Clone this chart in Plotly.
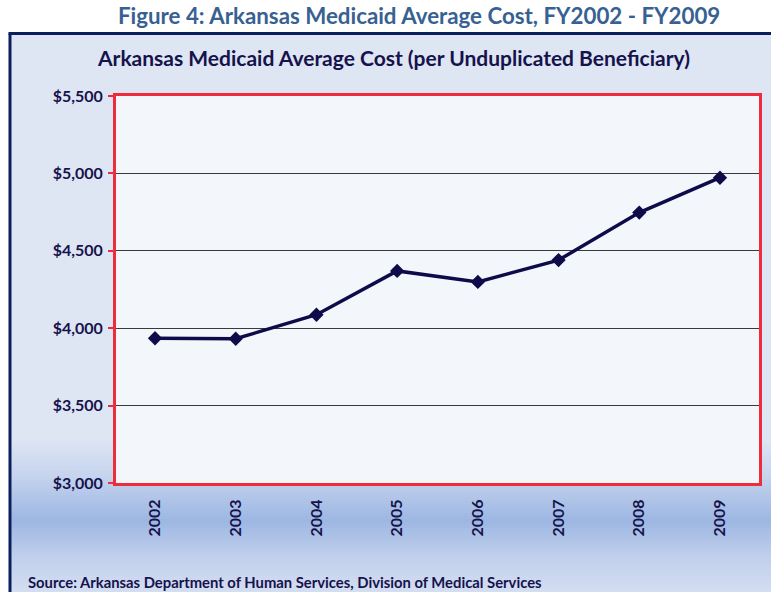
import plotly.graph_objects as go

years = ["2002", "2003", "2004", "2005", "2006", "2007", "2008", "2009"]
avg_cost = [3935, 3932, 4087, 4370, 4299, 4440, 4747, 4972]
y_ticks = [3000, 3500, 4000, 4500, 5000, 5500]
y_tick_labels = ["$3,000", "$3,500", "$4,000", "$4,500", "$5,000", "$5,500"]

W, H = 771, 592
L, R, T, B = 116, 762, 96, 483


def px(p):
    return (p - L) / (R - L)


def py(q):
    return (B - q) / (B - T)


def hex2rgb(h):
    h = h.lstrip("#")
    return [int(h[i:i + 2], 16) for i in (0, 2, 4)]


stops = [(33, "#DEE5F3"), (440, "#DEE5F3"), (475, "#C6D4EE"), (520, "#9DB7E3"),
         (555, "#BFCEEB"), (592, "#D4DEF1")]


def color_at(q):
    for (a, ca), (b, cb) in zip(stops[:-1], stops[1:]):
        if a <= q <= b:
            t = (q - a) / (b - a) if b > a else 0
            c1, c2 = hex2rgb(ca), hex2rgb(cb)
            return "rgb(%d,%d,%d)" % tuple(round(c1[i] + (c2[i] - c1[i]) * t) for i in range(3))
    return stops[-1][1]


shapes = []
# box fill gradient
q = 33
step = 3
while q < 592:
    shapes.append(dict(type="rect", xref="paper", yref="paper", layer="below",
                       x0=px(10), x1=px(775), y0=py(min(q + step, 593)), y1=py(q),
                       fillcolor=color_at(q + step / 2), line=dict(width=0)))
    q += step
# plot area background
shapes.append(dict(type="rect", xref="paper", yref="paper", layer="below",
                   x0=0, x1=1, y0=0, y1=1, fillcolor="#F3F7FC", line=dict(width=0)))
# box border (left and top)
shapes.append(dict(type="line", xref="paper", yref="paper", layer="below",
                   x0=px(9.5), x1=px(9.5), y0=py(595), y1=py(33.5),
                   line=dict(color="#0B1F5E", width=3)))
shapes.append(dict(type="line", xref="paper", yref="paper", layer="below",
                   x0=px(8), x1=px(775), y0=py(33.5), y1=py(33.5),
                   line=dict(color="#0B1F5E", width=3)))

fig = go.Figure()
fig.add_trace(go.Scatter(
    x=years, y=avg_cost, mode="lines+markers",
    line=dict(color="#0F0B4A", width=3.5),
    marker=dict(symbol="diamond", size=11, color="#0F0B4A"),
    hoverinfo="x+y", showlegend=False,
))

navy = "#16124C"
fig.update_layout(
    width=W, height=H,
    margin=dict(l=L, r=W - R, t=T, b=H - B),
    paper_bgcolor="white",
    plot_bgcolor="rgba(0,0,0,0)",
    font=dict(family="Lato, 'Open Sans', sans-serif", color=navy),
    shapes=shapes,
    xaxis=dict(
        type="category", showgrid=False, zeroline=False,
        showline=True, mirror=True, linecolor="#EE2C3C", linewidth=3,
        ticks="", tickangle=-90, ticklabelstandoff=7,
        tickfont=dict(size=16, color=navy, weight="bold"),
    ),
    yaxis=dict(
        range=[3000, 5500], tickvals=y_ticks, ticktext=y_tick_labels,
        showgrid=True, gridcolor="#3A3A3A", gridwidth=1, zeroline=False,
        showline=True, mirror=True, linecolor="#EE2C3C", linewidth=3,
        ticks="outside", ticklen=5, tickcolor="#EE2C3C", tickwidth=1.5,
        ticklabelstandoff=2,
        tickfont=dict(size=16, color=navy, weight="bold"),
    ),
    annotations=[
        dict(text="Figure 4: Arkansas Medicaid Average Cost, FY2002 - FY2009",
             xref="paper", yref="paper", x=px(420), y=py(15), showarrow=False,
             xanchor="center", yanchor="middle",
             font=dict(size=22.3, color="#376192", weight="bold")),
        dict(text="Arkansas Medicaid Average Cost (per Unduplicated Beneficiary)",
             xref="paper", yref="paper", x=px(395), y=py(57), showarrow=False,
             xanchor="center", yanchor="middle",
             font=dict(size=21, color=navy, weight="bold")),
        dict(text="Source: Arkansas Department of Human Services, Division of Medical Services",
             xref="paper", yref="paper", x=px(26), y=py(582), showarrow=False,
             xanchor="left", yanchor="middle",
             font=dict(size=14.8, color=navy, weight="bold")),
    ],
)

fig.write_html("out.html", config={"displayModeBar": False},
               post_script="document.body.style.margin='0px';document.documentElement.style.overflow='hidden';")
